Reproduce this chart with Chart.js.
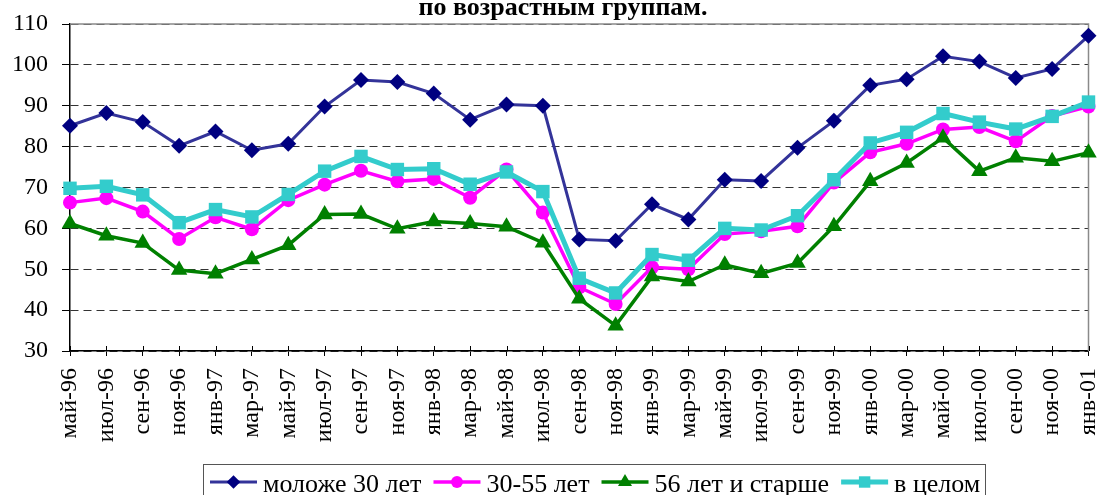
<!DOCTYPE html>
<html><head><meta charset="utf-8">
<script src="https://cdn.jsdelivr.net/npm/chart.js@4/dist/chart.umd.min.js"></script>
<style>html,body{margin:0;padding:0;background:#fff}#wrap{width:1098px;height:495px;position:relative;overflow:hidden}</style>
</head><body><div id="wrap"><canvas id="c" width="1098" height="495"></canvas></div>
<script>
const titleText = 'по возрастным группам.';
const categories = ['май-96','июл-96','сен-96','ноя-96','янв-97','мар-97','май-97','июл-97','сен-97','ноя-97','янв-98','мар-98','май-98','июл-98','сен-98','ноя-98','янв-99','мар-99','май-99','июл-99','сен-99','ноя-99','янв-00','мар-00','май-00','июл-00','сен-00','ноя-00','янв-01'];
const seriesNames = ['моложе 30 лет','30-55 лет','56 лет и старше','в целом'];
const under30 = [85.1, 88.2, 86.0, 80.2, 83.7, 79.1, 80.7, 89.8, 96.3, 95.8, 93.0, 86.6, 90.3, 90.0, 57.3, 57.0, 65.9, 62.2, 71.9, 71.6, 79.7, 86.3, 95.0, 96.5, 102.1, 100.8, 96.8, 99.0, 107.1];
const age30to55 = [66.3, 67.4, 64.1, 57.4, 62.7, 59.8, 66.9, 70.7, 74.1, 71.5, 72.1, 67.5, 74.4, 63.9, 45.6, 41.5, 50.5, 50.0, 58.6, 59.3, 60.5, 71.2, 78.6, 80.7, 84.2, 84.8, 81.3, 87.5, 89.8];
const age56plus = [61.2, 58.2, 56.4, 49.8, 48.9, 52.4, 55.9, 63.4, 63.5, 59.9, 61.7, 61.2, 60.4, 56.5, 42.8, 36.2, 48.2, 47.0, 51.1, 49.0, 51.5, 60.5, 71.5, 76.0, 82.2, 74.0, 77.3, 76.4, 78.5];
const overall = [69.8, 70.3, 68.2, 61.4, 64.6, 62.8, 68.3, 74.0, 77.6, 74.4, 74.6, 70.8, 73.8, 69.0, 47.8, 44.2, 53.6, 52.2, 60.0, 59.6, 63.1, 71.9, 80.9, 83.5, 88.1, 86.0, 84.3, 87.4, 90.9];
const yMin = 30, yMax = 110, yStep = 10;

const FONT = '"Liberation Serif", "Times New Roman", serif';

function drawMarker(ctx, style, x, y, r, fill) {
  ctx.save();
  ctx.fillStyle = fill;
  ctx.beginPath();
  if (style === 'circle') { ctx.arc(x, y, r, 0, Math.PI * 2); }
  else if (style === 'rectRot') { ctx.moveTo(x, y - r); ctx.lineTo(x + r, y); ctx.lineTo(x, y + r); ctx.lineTo(x - r, y); ctx.closePath(); }
  else if (style === 'triangle') { const h = r * 0.866; ctx.moveTo(x, y - r); ctx.lineTo(x + h, y + r / 2); ctx.lineTo(x - h, y + r / 2); ctx.closePath(); }
  else { const s = r * Math.SQRT1_2; ctx.rect(x - s, y - s, 2 * s, 2 * s); }
  ctx.fill();
  ctx.restore();
}

const framePlugin = {
  id: 'frame',
  beforeDatasetsDraw(chart) {
    const {ctx, chartArea: a} = chart;
    ctx.save();
    ctx.strokeStyle = '#8a8a8a'; ctx.lineWidth = 1.5;
    ctx.beginPath();
    ctx.moveTo(a.left, a.top); ctx.lineTo(a.right, a.top); ctx.lineTo(a.right, a.bottom);
    ctx.stroke();
    const xs = chart.scales.x;
    ctx.strokeStyle = '#000'; ctx.lineWidth = 1;
    for (let i = 0; i < categories.length; i++) {
      const px = Math.round(xs.getPixelForTick(i)) + 0.5;
      ctx.beginPath(); ctx.moveTo(px, a.bottom - 5); ctx.lineTo(px, a.bottom); ctx.stroke();
    }
    ctx.restore();
  },
  afterDraw(chart) {
    const ctx = chart.ctx;
    ctx.save();
    ctx.font = 'bold 26px ' + FONT;
    ctx.fillStyle = '#000';
    ctx.textAlign = 'center';
    ctx.textBaseline = 'alphabetic';
    ctx.fillText(titleText, 563, 15);
    ctx.textAlign = 'left';
    ctx.font = '26px ' + FONT;
    ctx.strokeStyle = '#555'; ctx.lineWidth = 1;
    ctx.strokeRect(203.5, 464.5, 782, 40);
    let x = 210; const yLine = 482, yText = 492;
    chart.data.datasets.forEach(ds => {
      ctx.strokeStyle = ds.borderColor; ctx.lineWidth = ds.borderWidth;
      ctx.beginPath(); ctx.moveTo(x, yLine); ctx.lineTo(x + 47, yLine); ctx.stroke();
      drawMarker(ctx, ds.pointStyle, x + 23.5, yLine, ds.pointRadius * 0.85, ds.pointBackgroundColor);
      x += 53;
      ctx.fillStyle = '#000';
      ctx.fillText(ds.label, x, yText);
      x += ctx.measureText(ds.label).width + 12;
    });
    ctx.restore();
  }
};

const mk = (label, data, line, fill, width, style, r, order) => ({
  label, data, borderColor: line, backgroundColor: fill, borderWidth: width,
  pointStyle: style, pointRadius: r, pointHoverRadius: r, pointBackgroundColor: fill,
  pointBorderColor: fill, pointBorderWidth: 0, tension: 0, clip: false, order
});

new Chart(document.getElementById('c'), {
  type: 'line',
  data: {
    labels: categories,
    datasets: [
      mk(seriesNames[0], under30, '#333399', '#000080', 3, 'rectRot', 8, 4),
      mk(seriesNames[1], age30to55, '#FF00FF', '#FF00FF', 3.5, 'circle', 7, 3),
      mk(seriesNames[2], age56plus, '#008000', '#008000', 3.5, 'triangle', 9.5, 2),
      mk(seriesNames[3], overall, '#33CCCC', '#33CCCC', 5, 'rect', 9.5, 1)
    ]
  },
  options: {
    responsive: false,
    animation: false,
    devicePixelRatio: 1,
    layout: { padding: { top: 24, right: 4, left: 0, bottom: 0 } },
    plugins: { legend: { display: false }, title: { display: false }, tooltip: { enabled: false } },
    scales: {
      x: {
        type: 'category', offset: false,
        grid: { drawOnChartArea: false, drawTicks: true, tickLength: 5, color: '#000', lineWidth: 1 },
        border: { display: true, color: '#000', width: 1.5 },
        ticks: { autoSkip: false, minRotation: 90, maxRotation: 90, padding: 12, color: '#000', font: { family: FONT, size: 24 } },
        afterFit(s) { s.height = 144; s.paddingLeft = 0; s.paddingRight = 0; }
      },
      y: {
        min: yMin, max: yMax,
        grid: { color: '#333', lineWidth: 1, drawTicks: true, tickLength: 8, tickColor: '#000' },
        border: { display: true, color: '#000', width: 1.5, dash: [8, 5] },
        ticks: { stepSize: yStep, padding: 14, color: '#000', font: { family: FONT, size: 24 } },
        afterFit(s) { s.width = 70; s.paddingTop = 0; s.paddingBottom = 0; }
      }
    }
  },
  plugins: [framePlugin]
});
</script></body></html>
